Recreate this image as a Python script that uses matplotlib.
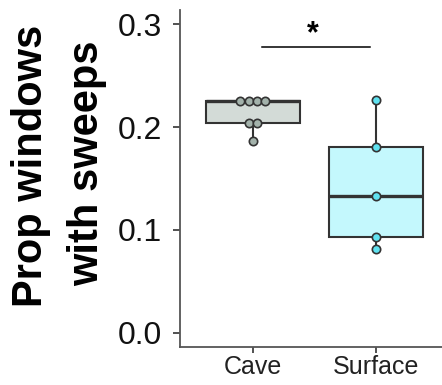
import numpy as np
import matplotlib
matplotlib.use("Agg")
import matplotlib.pyplot as plt

plt.rcParams['font.family'] = ['Liberation Sans', 'DejaVu Sans']

# Data
groups = ["Cave", "Surface"]
cave = [0.186, 0.204, 0.204, 0.225, 0.225, 0.225, 0.225]
surface = [0.082, 0.0935, 0.133, 0.181, 0.226]
box_fill = ["#d3dbd7", "#c4f8fd"]
point_fill = ["#a3b2ab", "#5fe2f0"]
y_ticks = [0.0, 0.1, 0.2, 0.3]

fig = plt.figure(figsize=(4.42, 3.85), dpi=100)
ax = fig.add_axes([180 / 442, 38 / 385, 1 - 180 / 442, 337 / 385])

edge = "#333333"
bp = ax.boxplot([cave, surface], positions=[1, 2], widths=0.76, patch_artist=True,
                whis=1.5, showfliers=False, showcaps=False,
                medianprops=dict(color=edge, linewidth=2.4),
                whiskerprops=dict(color=edge, linewidth=1.5),
                boxprops=dict(edgecolor=edge, linewidth=1.5))
for patch, c in zip(bp["boxes"], box_fill):
    patch.set_facecolor(c)

# spread tied values side by side (beeswarm-like)
step = 0.068
for i, vals in enumerate([cave, surface]):
    vals = np.array(vals)
    for v in np.unique(vals):
        n = np.sum(vals == v)
        offs = (np.arange(n) - (n - 1) / 2) * step
        ax.plot(1 + i + offs, [v] * n, "o", ms=6, mfc=point_fill[i], mec=edge,
                mew=1.2, zorder=5, clip_on=False)

# significance bar
ax.plot([1.07, 1.95], [0.2775, 0.2775], color="black", lw=1.1)
ax.text(1.49, 0.2755, "*", ha="center", va="bottom", fontsize=22, fontweight="bold")

ax.set_xlim(0.407, 2.537)
ax.set_ylim(-0.0136, 0.3136)
ax.set_xticks([1, 2])
ax.set_xticklabels(groups, fontsize=18, color="#222222")
ax.set_yticks(y_ticks)
ax.set_yticklabels([f"{t:.1f}" for t in y_ticks], fontsize=23, color="#111111")
ax.tick_params(axis="y", length=5, width=1.2, color="#333333", pad=8)
ax.tick_params(axis="x", length=4, width=1.2, color="#333333", pad=2)
for s in ["top", "right"]:
    ax.spines[s].set_visible(False)
for s in ["left", "bottom"]:
    ax.spines[s].set_color("#555555")
    ax.spines[s].set_linewidth(1.3)

fig.text(31 / 442, 1 - 166 / 385, "Prop windows", rotation=90, ha="center",
         va="center", fontsize=30, fontweight="bold")
fig.text(87 / 442, 1 - 163 / 385, "with sweeps", rotation=90, ha="center",
         va="center", fontsize=30, fontweight="bold")

fig.savefig("out.png", dpi=100)
